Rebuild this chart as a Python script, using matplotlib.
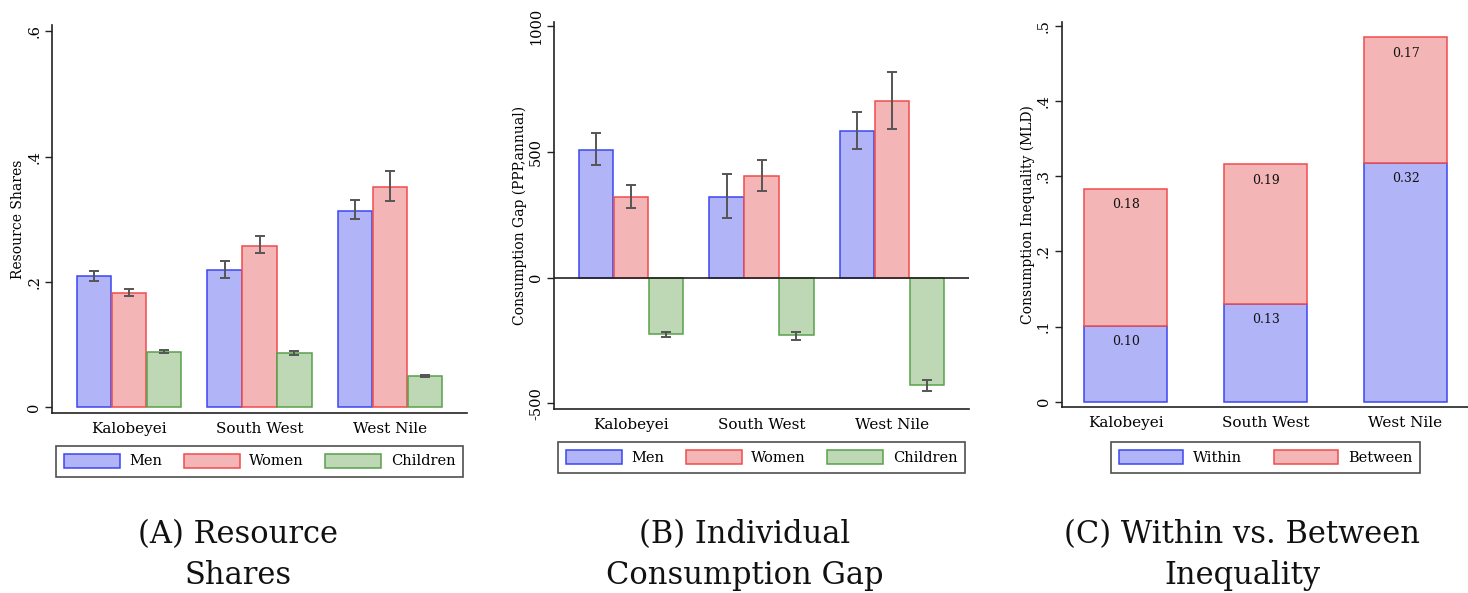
import numpy as np
import matplotlib
matplotlib.use("Agg")
import matplotlib.pyplot as plt
from matplotlib.patches import Patch

plt.rcParams['font.family'] = ['DejaVu Serif']

# data
regions = ['Kalobeyei', 'South West', 'West Nile']
groups = ['Men', 'Women', 'Children']

share = {'Men': [0.209, 0.219, 0.314],
         'Women': [0.182, 0.258, 0.352],
         'Children': [0.089, 0.086, 0.050]}
share_lo = {'Men': [0.201, 0.206, 0.300],
            'Women': [0.178, 0.246, 0.329],
            'Children': [0.087, 0.083, 0.048]}
share_hi = {'Men': [0.218, 0.233, 0.330],
            'Women': [0.188, 0.273, 0.377],
            'Children': [0.092, 0.090, 0.052]}

gap = {'Men': [508, 321, 584],
       'Women': [320, 403, 702],
       'Children': [-223, -229, -427]}
gap_lo = {'Men': [448, 237, 512],
          'Women': [277, 343, 590],
          'Children': [-237, -249, -451]}
gap_hi = {'Men': [573, 410, 659],
          'Women': [367, 466, 816],
          'Children': [-215, -215, -406]}

within = [0.101, 0.130, 0.318]
between = [0.182, 0.186, 0.167]

ticks_a = [0, 0.2, 0.4, 0.6]
ticklabels_a = ['0', '.2', '.4', '.6']
ticks_b = [-500, 0, 500, 1000]
ticklabels_b = ['-500', '0', '500', '1000']
ticks_c = [0, 0.1, 0.2, 0.3, 0.4, 0.5]
ticklabels_c = ['0', '.1', '.2', '.3', '.4', '.5']

fill = {'Men': '#b1b5f7', 'Women': '#f3b5b5', 'Children': '#bed8b6'}
edge = {'Men': '#3c46f2', 'Women': '#f04c4c', 'Children': '#58a04c'}
errc = '#555555'

W, H = 1468, 593
fig = plt.figure(figsize=(W / 100, H / 100), dpi=100)


def make_ax(l, r, b, t):
    return fig.add_axes([l / W, 1 - b / H, (r - l) / W, (b - t) / H])


def style(ax, ticks, labels, ylabel):
    for s in ['top', 'right']:
        ax.spines[s].set_visible(False)
    for s in ['left', 'bottom']:
        ax.spines[s].set_color('#222222')
        ax.spines[s].set_linewidth(1.2)
    ax.set_yticks(ticks)
    ax.set_yticklabels(labels, rotation=90, va='center', fontsize=10.5)
    ax.tick_params(axis='y', length=5, width=1, color='#222222', pad=3)
    ax.tick_params(axis='x', length=0, pad=6, labelsize=11)
    ax.set_xticks(range(len(regions)))
    ax.set_xticklabels(regions)
    ax.set_ylabel(ylabel, fontsize=10, labelpad=1.5)


def grouped(ax, vals, lo, hi):
    w = 0.268
    x = np.arange(len(regions))
    for i, g in enumerate(groups):
        xs = x + (i - 1) * w
        ax.bar(xs, vals[g], w * 0.985, color=fill[g], edgecolor=edge[g],
               linewidth=1.1, zorder=2)
        v = np.array(vals[g])
        yerr = [v - np.array(lo[g]), np.array(hi[g]) - v]
        ax.errorbar(xs, v, yerr=yerr, fmt='none', ecolor=errc,
                    elinewidth=1.4, capsize=3.5, capthick=1.4, zorder=3)


# Panel A
axA = make_ax(52.3, 466.7, 413.3, 25)
grouped(axA, share, share_lo, share_hi)
style(axA, ticks_a, ticklabels_a, 'Resource Shares')
axA.set_xlim(-0.587, 2.587)
axA.set_ylim(-0.0096, 0.61)

# Panel B
axB = make_ax(554, 969, 409.3, 21.7)
grouped(axB, gap, gap_lo, gap_hi)
style(axB, ticks_b, ticklabels_b, 'Consumption Gap (PPP,annual)')
axB.axhline(0, color='#222222', linewidth=1.2, zorder=4)
axB.set_xlim(-0.59, 2.59)
axB.set_ylim(-524, 1017)

# Panel C
axC = make_ax(1061.7, 1468, 407.3, 21.7)
xc = np.arange(len(regions))
axC.bar(xc, within, 0.594, color=fill['Men'], edgecolor=edge['Men'],
        linewidth=1.1, zorder=2)
axC.bar(xc, between, 0.594, bottom=within, color=fill['Women'],
        edgecolor=edge['Women'], linewidth=1.1, zorder=2)
for i in range(len(regions)):
    axC.text(xc[i], within[i] - 0.021, f'{within[i]:.2f}', ha='center',
             va='center', fontsize=9, color='#111111')
    axC.text(xc[i], within[i] + between[i] - 0.021, f'{between[i]:.2f}',
             ha='center', va='center', fontsize=9, color='#111111')
style(axC, ticks_c, ticklabels_c, 'Consumption Inequality (MLD)')
axC.set_xlim(-0.459, 2.447)
axC.set_ylim(-0.0075, 0.5058)

# legends
leg_kw = dict(ncol=3, frameon=True, fancybox=False, edgecolor='#222222',
              fontsize=10.5, handlelength=3.85, handleheight=1.1,
              columnspacing=1.45, handletextpad=0.65, borderpad=0.55,
              borderaxespad=0)
hA = [Patch(facecolor=fill[g], edgecolor=edge[g], linewidth=1.1) for g in groups]
lA = fig.legend(hA, groups, loc='center', bbox_to_anchor=(259.5 / W, 1 - 461 / H), **leg_kw)
lA.get_frame().set_linewidth(1.2)
lB = fig.legend(hA, groups, loc='center', bbox_to_anchor=(761.5 / W, 1 - 457.5 / H), **leg_kw)
lB.get_frame().set_linewidth(1.2)
leg_kw.update(ncol=2, columnspacing=2.2, handlelength=4.4)
hC = [Patch(facecolor=fill['Men'], edgecolor=edge['Men'], linewidth=1.1),
      Patch(facecolor=fill['Women'], edgecolor=edge['Women'], linewidth=1.1)]
lC = fig.legend(hC, ['Within', 'Between'], loc='center',
                bbox_to_anchor=(1265.7 / W, 1 - 457.2 / H), **leg_kw)
lC.get_frame().set_linewidth(1.2)

# captions
captions = [('(A) Resource\nShares', 238), ('(B) Individual\nConsumption Gap', 745),
            ('(C) Within vs. Between\nInequality', 1242)]
for txt, xp in captions:
    fig.text(xp / W, 1 - 555 / H, txt, ha='center', va='center', fontsize=22,
             linespacing=1.4, color='#111111')

fig.savefig('out.png', dpi=100)
